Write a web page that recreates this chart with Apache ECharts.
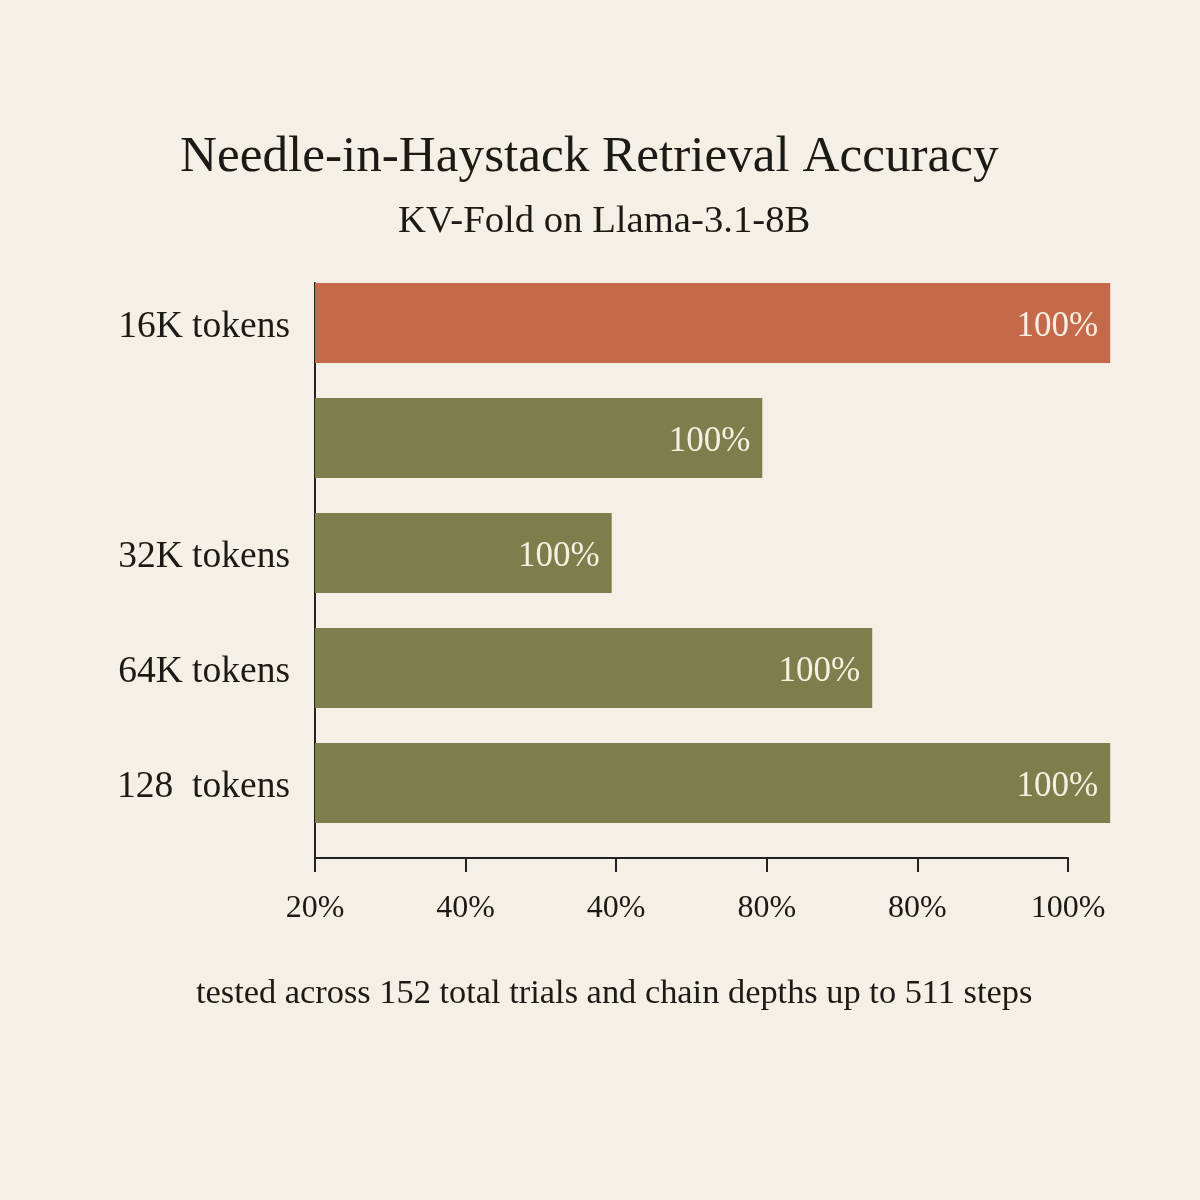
<!DOCTYPE html>
<html>
<head>
<meta charset="utf-8">
<title>Needle-in-Haystack Retrieval Accuracy</title>
<script src="https://cdn.jsdelivr.net/npm/echarts@6/dist/echarts.min.js"></script>
<style>
html, body { margin: 0; padding: 0; background: #f4f0e5; }
#main { width: 1200px; height: 1200px; }
</style>
</head>
<body>
<div id="main"></div>
<script>
// categories, top to bottom
let CATEGORIES = ['16K tokens', '', '32K tokens', '64K tokens', '128  tokens'];
// bar lengths in axis units (one unit per tick step)
let BAR_LENGTHS = [5.28, 2.97, 1.97, 3.70, 5.28];
let BAR_LABELS = ['100%', '100%', '100%', '100%', '100%'];
// x tick labels as printed
let TICK_LABELS = ['20%', '40%', '40%', '80%', '80%', '100%'];

let FONT = '"Liberation Serif", "DejaVu Serif", serif';
let INK = '#1c1a16';
let RED = '#c4694a';
let OLIVE = '#7e7d4c';

var myChart = echarts.init(document.getElementById('main'));

var option = {
	backgroundColor: '#f4f0e5',
	textStyle: { fontFamily: FONT },
	title: [{
		text: 'Needle-in-Haystack Retrieval Accuracy',
		left: 175, top: 124,
		textStyle: { fontFamily: FONT, fontSize: 51.2, fontWeight: 'normal', color: INK, lineHeight: 58 }
	}, {
		text: 'KV-Fold on Llama-3.1-8B',
		left: 393, top: 195,
		textStyle: { fontFamily: FONT, fontSize: 38.7, fontWeight: 'normal', color: INK, lineHeight: 44 }
	}, {
		text: 'tested across 152 total trials and chain depths up to 511 steps',
		left: 191, top: 969,
		textStyle: { fontFamily: FONT, fontSize: 34.4, fontWeight: 'normal', color: INK, lineHeight: 40 }
	}],
	grid: { left: 315, right: 132, top: 283, height: 575, containLabel: false },
	xAxis: {
		type: 'value',
		min: 0, max: 5, interval: 1,
		splitLine: { show: false },
		axisLine: { show: true, lineStyle: { color: '#222', width: 2 } },
		axisTick: { show: true, length: 14, lineStyle: { color: '#222', width: 2 } },
		axisLabel: {
			margin: 35,
			fontFamily: FONT, fontSize: 32, color: INK,
			formatter: (v) => TICK_LABELS[Math.round(v)]
		}
	},
	yAxis: {
		type: 'category',
		inverse: true,
		data: CATEGORIES,
		axisLine: { show: true, lineStyle: { color: '#222', width: 2 } },
		axisTick: { show: false },
		axisLabel: {
			margin: 25, fontFamily: FONT, fontSize: 37.5, color: INK,
			// lift labels to the bar centre (bars sit at the top of each band)
			verticalAlign: 'bottom',
			lineHeight: 27
		}
	},
	series: [{
		type: 'bar',
		barWidth: 80,
		barGap: '0%',
		clip: false,
		silent: true,
		data: BAR_LENGTHS.map((v, i) => ({
			value: v,
			itemStyle: { color: i === 0 ? RED : OLIVE }
		})),
		label: {
			show: true,
			position: 'insideRight',
			distance: 12,
			offset: [0, 4],
			fontFamily: FONT, fontSize: 35, color: '#f6efe2',
			formatter: (p) => BAR_LABELS[p.dataIndex]
		}
	}, {
		// empty slot so each bar sits at the top of its band
		type: 'bar',
		barWidth: 35,
		silent: true,
		data: BAR_LENGTHS.map(() => '-')
	}]
};

myChart.setOption(option);
</script>
</body>
</html>
